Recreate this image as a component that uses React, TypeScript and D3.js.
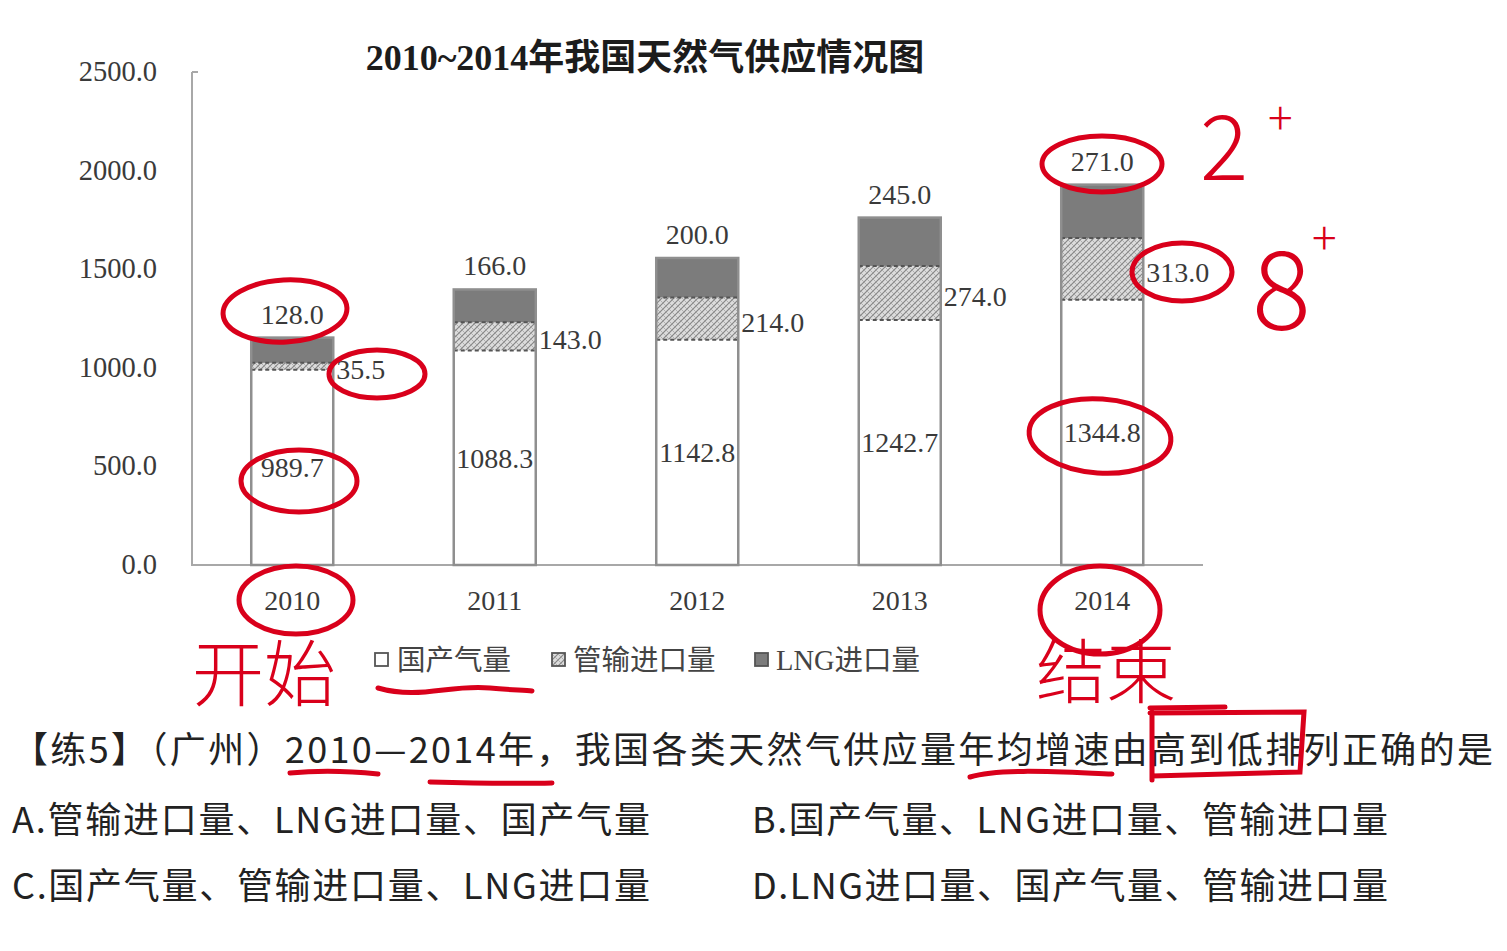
import * as d3 from "d3";

const years = ["2010", "2011", "2012", "2013", "2014"];
const domestic = [989.7, 1088.3, 1142.8, 1242.7, 1344.8];
const pipeline = [35.5, 143.0, 214.0, 274.0, 313.0];
const lng = [128.0, 166.0, 200.0, 245.0, 271.0];
const yTicks = [0, 500, 1000, 1500, 2000, 2500];
const legendNames = ["国产气量", "管输进口量", "LNG进口量"];
const chartTitle = "2010~2014年我国天然气供应情况图";
const question = "【练5】（广州）2010—2014年，我国各类天然气供应量年均增速由高到低排列正确的是";
const optionsLeft = ["A.管输进口量、LNG进口量、国产气量", "C.国产气量、管输进口量、LNG进口量"];
const optionsRight = ["B.国产气量、LNG进口量、管输进口量", "D.LNG进口量、国产气量、管输进口量"];

const SERIF = "'Liberation Serif', 'Times New Roman', 'Noto Sans CJK SC', serif";
const SANS = "'Noto Sans CJK SC', 'Noto Sans', sans-serif";
const RED = "#d9001b";
const LNG_FILL = "#7c7c7c";
const EDGE = "#8f8f8f";

export default function App() {
  const W = 1507;
  const H = 951;

  const x = d3.scaleBand().domain(years).range([191, 1203.5]).paddingInner(0.595).paddingOuter(0.2975);
  const y = d3.scaleLinear().domain([0, 2500]).range([565, 72]);
  const fmt = d3.format(".1f");
  const bw = x.bandwidth();

  const rows = years.map((yr, i) => {
    const d0 = domestic[i];
    const d1 = d0 + pipeline[i];
    const d2 = d1 + lng[i];
    return { yr, i, d0, d1, d2, x0: x(yr) as number };
  });

  return (
    <svg width={W} height={H} style={{ position: "absolute", left: 0, top: 0, display: "block", background: "#fff" }}>
      <defs>
        <pattern id="hatch" width="6" height="6" patternUnits="userSpaceOnUse">
          <rect width="6" height="6" fill="#dcdcdc" />
          <path d="M0,6 L6,0 M-1,1 L1,-1 M5,7 L7,5" stroke="#858585" strokeWidth="1.1" />
          <path d="M0,0 L6,6 M-1,5 L1,7 M5,-1 L7,1" stroke="#aaaaaa" strokeWidth="0.9" />
        </pattern>
      </defs>

      {/* title */}
      <text x={645} y={70} textAnchor="middle" fontFamily={SERIF} fontWeight="bold" fontSize={36} fill="#1c1c1c">
        {chartTitle}
      </text>

      {/* y axis */}
      <line x1={192} x2={192} y1={y(2500)} y2={y(0)} stroke="#a8a8a8" strokeWidth={2} />
      <line x1={192} x2={198} y1={y(2500)} y2={y(2500)} stroke="#a8a8a8" strokeWidth={2} />
      {yTicks.map((t) => (
        <text key={t} x={157} y={y(t) + 9} textAnchor="end" fontFamily={SERIF} fontSize={28.5} fill="#3a3a3a">
          {fmt(t)}
        </text>
      ))}

      {/* x axis */}
      <line x1={191} x2={1203} y1={y(0)} y2={y(0)} stroke="#a8a8a8" strokeWidth={2} />
      {years.map((yr) => (
        <text key={yr} x={(x(yr) as number) + bw / 2} y={610} textAnchor="middle" fontFamily={SERIF} fontSize={28} fill="#3a3a3a">
          {yr}
        </text>
      ))}

      {/* bars */}
      {rows.map((r) => (
        <g key={r.yr}>
          <rect x={r.x0} y={y(r.d0)} width={bw} height={y(0) - y(r.d0)} fill="#fff" />
          <rect x={r.x0} y={y(r.d1)} width={bw} height={y(r.d0) - y(r.d1)} fill="url(#hatch)" />
          <rect x={r.x0} y={y(r.d2)} width={bw} height={y(r.d1) - y(r.d2)} fill={LNG_FILL} />
          <line x1={r.x0} x2={r.x0 + bw} y1={y(r.d0)} y2={y(r.d0)} stroke="#555" strokeWidth={2} strokeDasharray="4,3" />
          <line x1={r.x0} x2={r.x0 + bw} y1={y(r.d1)} y2={y(r.d1)} stroke="#555" strokeWidth={2} strokeDasharray="4,3" />
          <rect x={r.x0} y={y(r.d2)} width={bw} height={y(0) - y(r.d2)} fill="none" stroke={EDGE} strokeWidth={2.5} />
          <text x={r.x0 + bw / 2} y={(y(0) + y(r.d0)) / 2 + 10} textAnchor="middle" fontFamily={SERIF} fontSize={28} fill="#3a3a3a">
            {fmt(domestic[r.i])}
          </text>
          <text x={r.x0 + bw + 3} y={(y(r.d0) + y(r.d1)) / 2 + 13} textAnchor="start" fontFamily={SERIF} fontSize={28} fill="#3a3a3a">
            {fmt(pipeline[r.i])}
          </text>
          <text x={r.x0 + bw / 2} y={y(r.d2) - 14} textAnchor="middle" fontFamily={SERIF} fontSize={28} fill="#3a3a3a">
            {fmt(lng[r.i])}
          </text>
        </g>
      ))}

      {/* legend */}
      {[
        { x: 375, fill: "#fff", tx: 397 },
        { x: 552, fill: "url(#hatch)", tx: 573 },
        { x: 755, fill: LNG_FILL, tx: 776 },
      ].map((l, i) => (
        <g key={i}>
          <rect x={l.x} y={653} width={13} height={13} fill={l.fill} stroke="#555" strokeWidth={1.8} />
          <text x={l.tx} y={670} fontFamily={SERIF} fontSize={28.5} fill="#444">
            {legendNames[i]}
          </text>
        </g>
      ))}

      {/* question text */}
      <text x={12} y={763} fontFamily={SANS} fontSize={36} fill="#222" textLength={1481} lengthAdjust="spacing">
        {question}
      </text>
      {optionsLeft.map((t, i) => (
        <text key={t} x={12} y={833 + i * 66} fontFamily={SANS} fontSize={36} fill="#222" textLength={638} lengthAdjust="spacing">
          {t}
        </text>
      ))}
      {optionsRight.map((t, i) => (
        <text key={t} x={752} y={833 + i * 66} fontFamily={SANS} fontSize={36} fill="#222" textLength={636} lengthAdjust="spacing">
          {t}
        </text>
      ))}

      {/* teacher's red annotations */}
      <g fill="none" stroke={RED} strokeWidth={5} strokeLinecap="round">
        <ellipse cx={285} cy={311} rx={62} ry={31} transform="rotate(-3 285 311)" />
        <ellipse cx={377} cy={374} rx={48} ry={24} />
        <ellipse cx={299} cy={481} rx={58} ry={31} />
        <ellipse cx={296} cy={600} rx={57} ry={34} />
        <ellipse cx={1102} cy={164} rx={60} ry={28} />
        <ellipse cx={1182} cy={272} rx={50} ry={29} />
        <ellipse cx={1100} cy={436} rx={71} ry={37} transform="rotate(4 1100 436)" />
        <ellipse cx={1100} cy={610} rx={60} ry={44} />
        <path d="M378,688 C420,700 450,684 490,688 C510,690 525,690 532,691" />
        <path d="M290,773 C320,770 350,771 378,774" />
        <path d="M430,782 C470,783 510,784 552,783" />
        <path d="M970,777 C1000,768 1060,772 1112,774" />
        <path d="M1152,712 L1152,780 M1152,776 L1300,772 L1304,712 L1150,713" />
        <path d="M1150,708 L1225,707" />
      </g>
      <g fill={RED} fontFamily={SANS}>
        <text x={1200} y={180} fontSize={90} fontWeight={300}>2</text>
        <text x={1268} y={135} fontSize={46} fontWeight={300}>+</text>
        <text x={1252} y={330} fontSize={110} fontWeight={300}>8</text>
        <text x={1312} y={255} fontSize={46} fontWeight={300}>+</text>
        <text x={192} y={700} fontSize={72} fontWeight={300}>开始</text>
        <text x={1036} y={698} fontSize={70} fontWeight={300}>结束</text>
      </g>
    </svg>
  );
}
